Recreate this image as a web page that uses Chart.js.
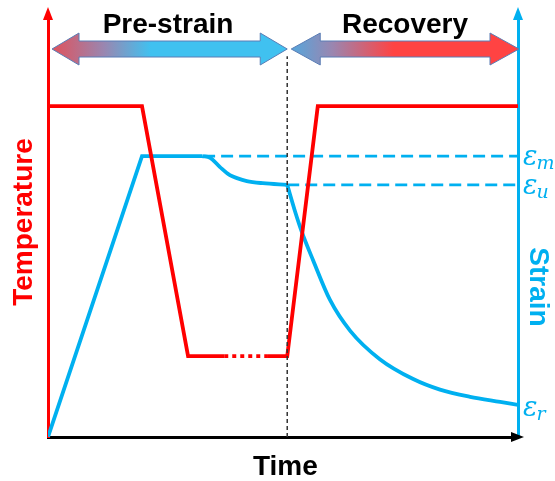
<!DOCTYPE html>
<html>
<head>
<meta charset="utf-8">
<script src="https://cdn.jsdelivr.net/npm/chart.js@4"></script>
<style>
  html, body { margin: 0; padding: 0; background: #fff; }
  canvas { display: block; }
</style>
</head>
<body>
<canvas id="c" width="555" height="481"></canvas>
<script>
// ---- data (arbitrary schematic units) ----
const timeTemp    = [0, 20, 29.8, 37.5, 46.8, 50.9, 57.4, 100];
const temperature = [78.2, 78.2, 19.1, 19.1, 19.1, 19.1, 78.2, 78.2];

const timeLoad    = [0, 20, 32.8];
const strainLoad  = [0, 66.4, 66.4];

const timeHold    = [32.8, 34.5, 36.6, 38.7, 40.2, 42.3, 45.7, 50.9];
const strainHold  = [66.4, 66.0, 63.8, 61.9, 61.2, 60.5, 60.0, 59.6];

const timeRecover   = [50.9, 52.6, 54.0, 56.4, 60.0, 64.3, 70.6, 77.7, 83.4, 89.8, 96.2, 100];
const strainRecover = [59.6, 53.2, 48.5, 41.8, 32.4, 25.1, 18.4, 13.7, 11.2, 9.5, 8.3, 7.6];

const strainLevels = [66.4, 59.6, 7.6];
const levelLabels  = ['m', 'u', 'r'];
const levelStart   = [33, 50.9];
const switchTime   = 50.9;
const phaseLabels  = ['Pre-strain', 'Recovery'];
const axisLabels   = { x: 'Time', left: 'Temperature', right: 'Strain' };

const RED = '#ff0000';
const BLUE = '#00b0f0';

const zip = (xs, ys) => xs.map((x, i) => ({ x, y: ys[i] }));

const decor = {
  id: 'decor',
  afterDraw(chart) {
    const ctx = chart.ctx;
    const xs = chart.scales.x, yT = chart.scales.yT, yS = chart.scales.yS;
    const ca = chart.chartArea;
    ctx.save();

    // axis arrowheads
    const tri = (pts, col) => {
      ctx.beginPath();
      ctx.moveTo(pts[0][0], pts[0][1]);
      ctx.lineTo(pts[1][0], pts[1][1]);
      ctx.lineTo(pts[2][0], pts[2][1]);
      ctx.closePath();
      ctx.fillStyle = col;
      ctx.fill();
    };
    const L = xs.getPixelForValue(0), R = xs.getPixelForValue(100), B = ca.bottom;
    tri([[L, 7], [L - 5, 20], [L + 5, 20]], RED);
    tri([[R, 7], [R - 5, 20], [R + 5, 20]], BLUE);
    tri([[R + 6, B], [R - 7, B - 5], [R - 7, B + 5]], '#000');

    // phase double arrows
    const yc = 49, bh = 8, hh = 16;
    const dblArrow = (x0, x1, hl, stops) => {
      const g = ctx.createLinearGradient(x0, 0, x1, 0);
      stops.forEach(s => g.addColorStop(s[0], s[1]));
      ctx.beginPath();
      ctx.moveTo(x0, yc);
      ctx.lineTo(x0 + hl, yc - hh);
      ctx.lineTo(x0 + hl, yc - bh);
      ctx.lineTo(x1 - hl, yc - bh);
      ctx.lineTo(x1 - hl, yc - hh);
      ctx.lineTo(x1, yc);
      ctx.lineTo(x1 - hl, yc + hh);
      ctx.lineTo(x1 - hl, yc + bh);
      ctx.lineTo(x0 + hl, yc + bh);
      ctx.lineTo(x0 + hl, yc + hh);
      ctx.closePath();
      ctx.fillStyle = g;
      ctx.fill();
      ctx.lineWidth = 1;
      ctx.strokeStyle = '#5a7db5';
      ctx.stroke();
    };
    const sx = xs.getPixelForValue(switchTime);
    dblArrow(L + 4, sx, 27, [[0, '#e0525c'], [0.22, '#9a86b0'], [0.42, '#40c1f0'], [1, '#40c1f0']]);
    dblArrow(sx + 4, R + 1, 29, [[0, '#55a6dc'], [0.18, '#9a86b0'], [0.45, '#ff4343'], [1, '#ff4343']]);

    // texts
    ctx.textAlign = 'center';
    ctx.textBaseline = 'middle';
    ctx.font = 'bold 28px "Liberation Sans", Arial, sans-serif';
    ctx.fillStyle = '#000';
    ctx.fillText(phaseLabels[0], 168, 25);
    ctx.fillText(phaseLabels[1], 405, 25);
    ctx.fillText(axisLabels.x, xs.getPixelForValue(50.5), 467);

    ctx.save();
    ctx.translate(24, 222);
    ctx.rotate(-Math.PI / 2);
    ctx.fillStyle = RED;
    ctx.fillText(axisLabels.left, 0, 0);
    ctx.restore();

    ctx.save();
    ctx.translate(538, 287);
    ctx.rotate(Math.PI / 2);
    ctx.fillStyle = BLUE;
    ctx.fillText(axisLabels.right, 0, 0);
    ctx.restore();

    // epsilon labels
    ctx.textAlign = 'left';
    ctx.textBaseline = 'alphabetic';
    ctx.fillStyle = BLUE;
    strainLevels.forEach((v, i) => {
      const py = yS.getPixelForValue(v);
      const base = i === 2 ? py + 11 : py + 9;
      ctx.font = 'italic 27px "DejaVu Serif", serif';
      ctx.fillText('\u03b5', 523, base);
      const w = ctx.measureText('\u03b5').width;
      ctx.font = 'italic 19px "DejaVu Serif", serif';
      ctx.fillText(levelLabels[i], 522 + w, base + 4);
    });

    ctx.restore();
  }
};

const common = { pointRadius: 0, pointHoverRadius: 0, fill: false };

new Chart(document.getElementById('c'), {
  type: 'line',
  data: {
    datasets: [
      Object.assign({}, common, {
        data: zip([switchTime, switchTime], [0, 90]),
        yAxisID: 'yT', borderColor: '#333', borderWidth: 1.5, borderDash: [4, 3], tension: 0
      }),
      Object.assign({}, common, {
        data: zip(timeTemp, temperature),
        yAxisID: 'yT', borderColor: RED, borderWidth: 3.8, tension: 0,
        segment: { borderDash: c => c.p0DataIndex === 3 ? [4, 4] : undefined }
      }),
      Object.assign({}, common, {
        data: zip(timeLoad, strainLoad),
        yAxisID: 'yS', borderColor: BLUE, borderWidth: 3.8, tension: 0
      }),
      Object.assign({}, common, {
        data: zip(timeHold, strainHold),
        yAxisID: 'yS', borderColor: BLUE, borderWidth: 3.8, cubicInterpolationMode: 'monotone'
      }),
      Object.assign({}, common, {
        data: zip(timeRecover, strainRecover),
        yAxisID: 'yS', borderColor: BLUE, borderWidth: 3.8, cubicInterpolationMode: 'monotone'
      }),
      Object.assign({}, common, {
        data: zip([levelStart[0], 100], [strainLevels[0], strainLevels[0]]),
        yAxisID: 'yS', borderColor: BLUE, borderWidth: 2.8, borderDash: [12, 6], tension: 0
      }),
      Object.assign({}, common, {
        data: zip([levelStart[1], 100], [strainLevels[1], strainLevels[1]]),
        yAxisID: 'yS', borderColor: BLUE, borderWidth: 2.8, borderDash: [12, 6], tension: 0
      })
    ]
  },
  options: {
    responsive: false,
    animation: false,
    devicePixelRatio: 1,
    layout: { padding: { left: 48, right: 37, top: 14, bottom: 44 } },
    plugins: { legend: { display: false }, tooltip: { enabled: false } },
    scales: {
      x: {
        type: 'linear', min: 0, max: 100,
        ticks: { display: false }, grid: { display: false },
        border: { display: true, color: '#000', width: 3 },
        afterFit: s => { s.height = 0; }
      },
      yT: {
        position: 'left', min: 0, max: 100,
        ticks: { display: false }, grid: { display: false },
        border: { display: true, color: RED, width: 3 },
        afterFit: s => { s.width = 0; }
      },
      yS: {
        position: 'right', min: 0, max: 100,
        ticks: { display: false }, grid: { display: false },
        border: { display: true, color: BLUE, width: 3 },
        afterFit: s => { s.width = 0; }
      }
    }
  },
  plugins: [decor]
});
</script>
</body>
</html>
